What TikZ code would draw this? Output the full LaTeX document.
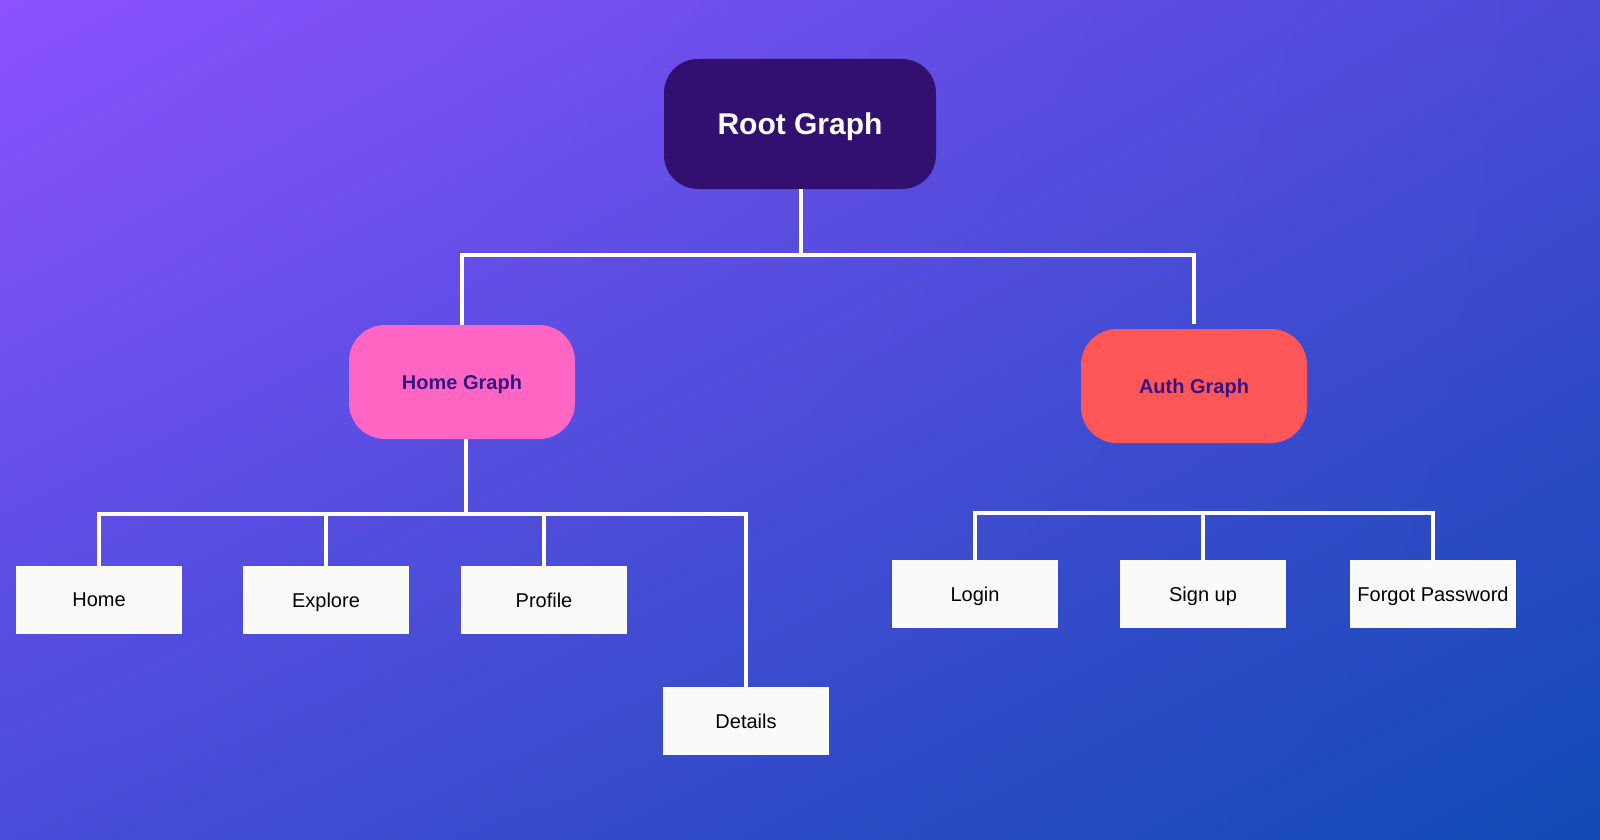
\documentclass[tikz,border=0pt]{standalone}
\usepackage{fontspec}
\setmainfont{Liberation Sans}
\usepackage{tikz}
\usetikzlibrary{shadings}

\definecolor{bgTL}{HTML}{8C52FF}
\definecolor{bgTR}{HTML}{4A4AD6}
\definecolor{bgBL}{HTML}{484CD8}
\definecolor{bgBR}{HTML}{104AB4}
\definecolor{rootfill}{HTML}{311070}
\definecolor{homefill}{HTML}{FF66C4}
\definecolor{authfill}{HTML}{FF5757}
\definecolor{graphtext}{HTML}{371482}
\definecolor{leaffill}{HTML}{FAFAF8}

\tikzset{
    graphbox/.style={rounded corners=36pt, minimum width=226pt, minimum height=114pt, text depth=0pt, font=\fontsize{20}{24}\selectfont\bfseries, text=graphtext},
    screen/.style={fill=leaffill, minimum width=166pt, minimum height=68pt, text depth=0pt, font=\fontsize{20}{24}\selectfont, text=black},
    wire/.style={draw=white, line width=3.2pt}
}

\begin{document}
\begin{tikzpicture}[x=1pt, y=-1pt]
    \shade[upper left=bgTL, upper right=bgTR, lower left=bgBL, lower right=bgBR] (0,0) rectangle (1600,840);
    \useasboundingbox (0,0) rectangle (1600,840);
    % graphs
    \node[fill=rootfill, rounded corners=34pt, minimum width=272pt, minimum height=130pt, text depth=0pt, text=white, font=\fontsize{30}{36}\selectfont\bfseries] (root) at (800,124) {Root Graph};
    \node[graphbox, fill=homefill] (homegraph) at (462,382) {Home Graph};
    \node[graphbox, fill=authfill] (authgraph) at (1194,386) {Auth Graph};
    % screens
    \node[screen] (home) at (99,600) {Home};
    \node[screen] (explore) at (326,600) {Explore};
    \node[screen] (profile) at (544,600) {Profile};
    \node[screen] (details) at (746,721) {Details};
    \node[screen] (login) at (975,594) {Login};
    \node[screen] (signup) at (1203,594) {Sign up};
    \node[screen] (forgot) at (1433,594) {Forgot Password};
    % connectors
    \coordinate (rootbus) at (801,255);
    \coordinate (homebus) at (466,514);
    \coordinate (authbus) at (1203,513);
    \draw[wire] (root.south -| rootbus) -- (rootbus);
    \draw[wire] (rootbus) -| (homegraph.north);
    \draw[wire] (rootbus) -| ([yshift=5pt]authgraph.north);
    \draw[wire] (homegraph.south -| homebus) -- (homebus);
    \foreach \s in {home, explore, profile, details}
        \draw[wire] (homebus) -| (\s.north);
    \draw[wire] (login.north) |- (authbus) -| (forgot.north);
    \draw[wire] (authbus) -- (signup.north);
\end{tikzpicture}
\end{document}
